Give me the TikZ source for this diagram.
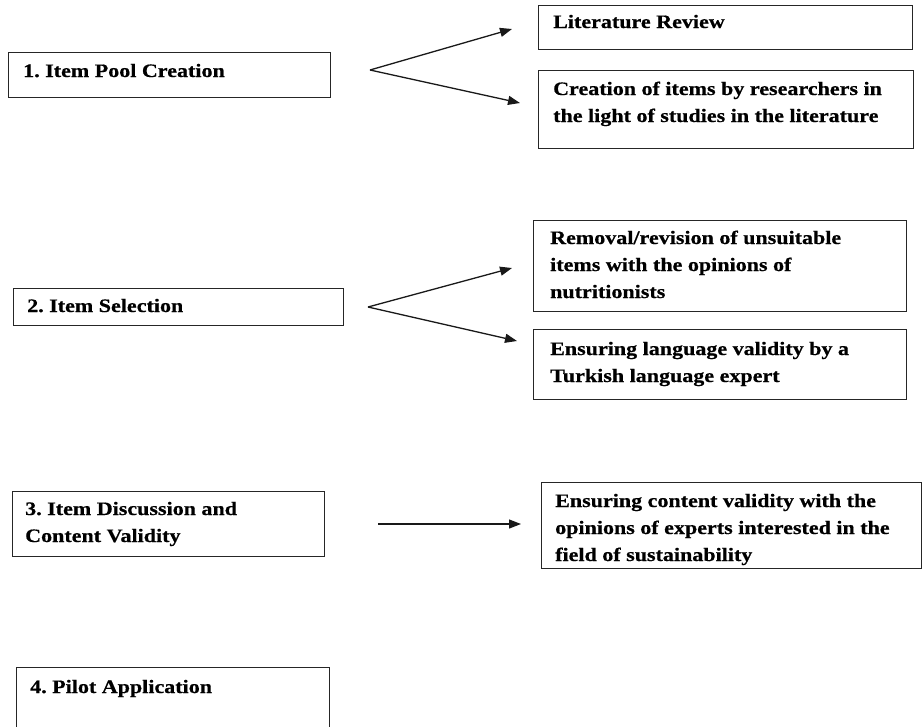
\documentclass[tikz,border=0pt]{standalone}
\usepackage{fontspec}
\newfontfamily\tnr{Liberation Serif}[FakeStretch=1.16,FakeBold=0.6]
\usetikzlibrary{arrows.meta,calc}
\frenchspacing
\begin{document}
\begin{tikzpicture}[x=1pt,y=-1pt,
  boxst/.style={draw=black!85, line width=1.4pt, rectangle, inner sep=0pt, anchor=north west},
  txt/.style={anchor=base west, inner sep=0pt, font=\tnr\bfseries\fontsize{19}{27}\selectfont},
  arr/.style={-{Triangle[length=12pt,width=9pt]}, line width=1.3pt, draw=black!90}]
\useasboundingbox (0,0) rectangle (923,726);
\clip (0,0) rectangle (923,726);
\fill[white] (0,0) rectangle (923,726);

% row 1
\node[boxst, minimum width=322pt, minimum height=45pt] (b1) at (8,52) {};
\node[txt] (t1) at (23,77) {1. Item Pool Creation};
\node[boxst, minimum width=374pt, minimum height=44pt] (b1a) at (538,5) {};
\node[txt] (t1a) at (553,28) {Literature Review};
\node[boxst, minimum width=375pt, minimum height=78pt] (b1b) at (538,70) {};
\node[txt] (t1b) at (553,95) {\parbox[t]{355pt}{\raggedright Creation of items by researchers in\\the light of studies in the literature}};
\coordinate (p1) at (370,70);
\coordinate (e1a) at (512,29);
\coordinate (e1b) at (520,103);
\draw[arr] (p1) -- (e1a);
\draw[arr] (p1) -- (e1b);

% row 2
\node[boxst, minimum width=330pt, minimum height=37pt] (b2) at (13,288) {};
\node[txt] (t2) at (27,312) {2. Item Selection};
\node[boxst, minimum width=373pt, minimum height=91pt] (b2a) at (533,220) {};
\node[txt] (t2a) at (550,244) {\parbox[t]{350pt}{\raggedright Removal/revision of unsuitable\\items with the opinions of\\nutritionists}};
\node[boxst, minimum width=373pt, minimum height=70pt] (b2b) at (533,329) {};
\node[txt] (t2b) at (550,355) {\parbox[t]{350pt}{\raggedright Ensuring language validity by a\\Turkish language expert}};
\coordinate (p2) at (368,307);
\coordinate (e2a) at (512,268);
\coordinate (e2b) at (517,341);
\draw[arr] (p2) -- (e2a);
\draw[arr] (p2) -- (e2b);

% row 3
\node[boxst, minimum width=312pt, minimum height=65pt] (b3) at (12,491) {};
\node[txt] (t3) at (25,515) {\parbox[t]{300pt}{\raggedright 3. Item Discussion and\\Content Validity}};
\node[boxst, minimum width=380pt, minimum height=86pt] (b3a) at (541,482) {};
\node[txt] (t3a) at (555,507) {\parbox[t]{360pt}{\raggedright Ensuring content validity with the\\opinions of experts interested in the\\field of sustainability}};
\coordinate (p3) at (378,524);
\coordinate (e3) at (521,524);
\draw[arr] (p3) -- (e3);

% row 4
\node[boxst, minimum width=313pt, minimum height=80pt] (b4) at (16,667) {};
\node[txt] (t4) at (30,693) {4. Pilot Application};
\end{tikzpicture}
\end{document}
